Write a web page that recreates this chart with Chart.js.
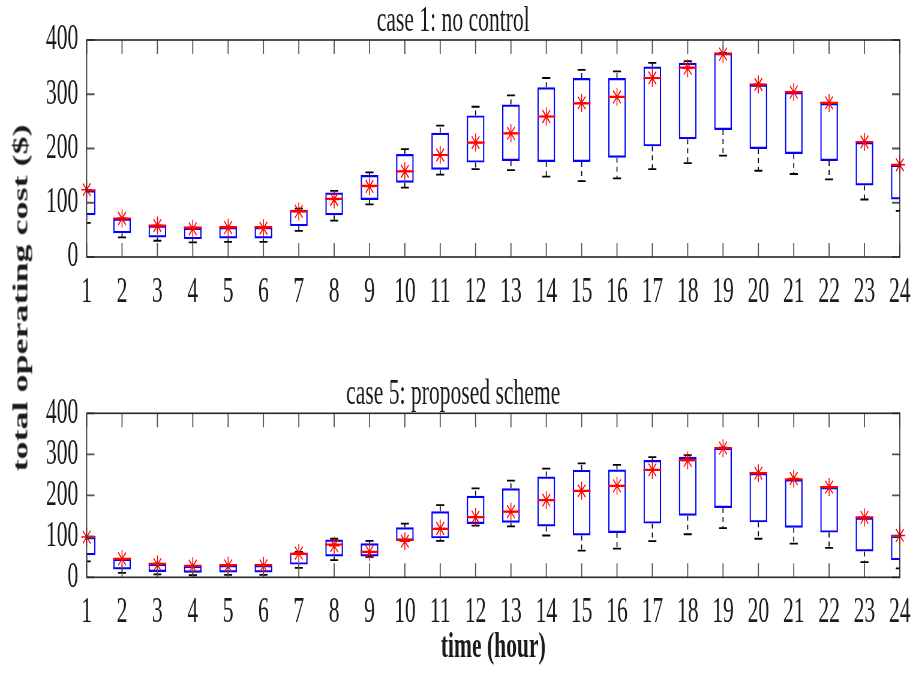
<!DOCTYPE html>
<html>
<head>
<meta charset="utf-8">
<script src="https://cdn.jsdelivr.net/npm/chart.js@4.4.0/dist/chart.umd.min.js"></script>
<style>
  html, body { margin: 0; padding: 0; background: #fff; }
  #wrap { position: relative; width: 919px; height: 678px; background: #fff; overflow: hidden; }
  canvas { position: absolute; left: 0; }
  #ylab {
    position: absolute; left: 20px; top: 298px;
    transform: translate(-50%, -50%) scaleX(0.6) rotate(-90deg);
    font: bold 36px 'Liberation Serif', 'Times New Roman', serif;
    color: #1a1a1a; white-space: nowrap;
  }
</style>
</head>
<body>
<div id="wrap">
  <canvas id="c1" width="1532" height="340" style="top:0;width:919px;height:340px"></canvas>
  <canvas id="c2" width="1532" height="338" style="top:340px;width:919px;height:338px"></canvas>
  <div id="ylab">total operating cost ($)</div>
</div>
<script>
// hours on the x axis
const hours = ['1','2','3','4','5','6','7','8','9','10','11','12','13','14','15','16','17','18','19','20','21','22','23','24'];
const yTicks = [0, 100, 200, 300, 400];

// case 1: no control
const c1Q1     = [77,44,36,33,34,34,57,77,105,137,161,174,177,175,175,183,204,217,234,199,190,177,132,106];
const c1Q3     = [123,71,58,54,55,55,87,119,151,190,229,261,281,313,330,330,351,358,376,318,304,284,212,170];
const c1Median = [123,71,58,54,55,55,84,107,131,158,188,211,228,259,283,295,330,349,375,318,304,284,212,170];
const c1Mean   = [124,71,58,52,54,53,84,106,130,158,188,211,228,259,284,295,330,348,374,318,304,284,212,170];
const c1Hi     = [123,71,58,54,55,55,89,122,156,199,242,277,298,330,345,342,358,361,376,318,304,284,212,170];
const c1Lo     = [63,36,30,27,28,28,48,67,97,128,152,162,160,148,140,145,162,173,187,159,153,143,106,85];

// case 5: proposed scheme
const c5Q1     = [54,19,13,11,12,12,31,51,51,89,95,130,133,124,102,108,131,150,169,134,121,109,63,42];
const c5Q3     = [98,45,33,28,30,30,60,92,83,122,161,199,217,246,262,263,286,294,316,254,239,220,146,101];
const c5Median = [98,45,33,28,30,30,57,80,62,91,118,147,160,188,211,223,262,286,315,254,239,220,146,101];
const c5Mean   = [98,45,31,27,28,28,59,77,62,88,119,147,160,188,211,223,262,285,315,254,241,220,146,102];
const c5Hi     = [98,45,33,28,30,30,62,94,89,131,176,217,236,265,278,274,293,298,316,254,239,220,146,101];
const c5Lo     = [39,11,7,5,6,6,23,42,50,89,89,126,124,102,65,70,88,105,120,94,82,72,37,22];

const FONT = "'Liberation Serif', 'Times New Roman', serif";
const INK = '#1a1a1a';

// dashed whisker stems between box and caps
const stems = {
  id: 'stems',
  beforeDatasetsDraw(chart, args, opts) {
    const { ctx, chartArea: a, scales: { x, y } } = chart;
    ctx.save();
    ctx.beginPath();
    ctx.rect(a.left, a.top, a.right - a.left, a.bottom - a.top);
    ctx.clip();
    ctx.strokeStyle = '#000';
    ctx.lineWidth = 1.7;
    ctx.setLineDash([5, 4]);
    opts.q1.forEach((v, i) => {
      const px = x.getPixelForValue(i);
      ctx.beginPath();
      ctx.moveTo(px, y.getPixelForValue(v));
      ctx.lineTo(px, y.getPixelForValue(opts.lo[i]));
      ctx.moveTo(px, y.getPixelForValue(opts.q3[i]));
      ctx.lineTo(px, y.getPixelForValue(opts.hi[i]));
      ctx.stroke();
    });
    ctx.restore();
  }
};

// box frame with inward ticks on all four sides
const frame = {
  id: 'frame',
  afterDatasetsDraw(chart) {
    const { ctx, chartArea: a, scales: { x, y } } = chart;
    ctx.save();
    ctx.strokeStyle = '#555';
    ctx.lineWidth = 1.8;
    ctx.beginPath();
    x.ticks.forEach((t, i) => {
      const px = x.getPixelForTick(i);
      ctx.moveTo(px, a.bottom); ctx.lineTo(px, a.bottom - 14);
      ctx.moveTo(px, a.top); ctx.lineTo(px, a.top + 14);
    });
    y.ticks.forEach((t, i) => {
      const py = y.getPixelForTick(i);
      ctx.moveTo(a.left, py); ctx.lineTo(a.left + 13, py);
      ctx.moveTo(a.right, py); ctx.lineTo(a.right - 13, py);
    });
    ctx.stroke();
    ctx.strokeStyle = '#262626';
    ctx.lineWidth = 1.6;
    ctx.strokeRect(a.left, a.top, a.right - a.left, a.bottom - a.top);
    ctx.restore();
  }
};

function makeChart(id, title, q1, q3, med, mean, hi, lo, cfg) {
  return new Chart(document.getElementById(id), {
    type: 'bar',
    data: {
      labels: hours,
      datasets: [
        { type: 'line', data: mean, showLine: false, pointStyle: 'star', pointRadius: 9,
          pointBorderColor: '#ff0000', pointBorderWidth: 1.5, clip: false, order: 1 },
        { type: 'line', data: med, showLine: false, pointStyle: 'line', pointRadius: 14.8,
          pointBorderColor: '#ff0000', pointBorderWidth: 2.2, clip: 0, order: 2 },
        { data: q1.map((v, i) => [v, q3[i]]), backgroundColor: 'rgba(0,0,0,0)',
          borderColor: '#0000ff', borderWidth: 2.2, borderSkipped: false,
          barPercentage: 0.5, categoryPercentage: 1.0, clip: 0, order: 3 },
        { type: 'line', data: hi, showLine: false, pointStyle: 'line', pointRadius: 6.7,
          pointBorderColor: '#000', pointBorderWidth: 1.8, clip: 0, order: 4 },
        { type: 'line', data: lo, showLine: false, pointStyle: 'line', pointRadius: 6.7,
          pointBorderColor: '#000', pointBorderWidth: 1.8, clip: 0, order: 4 }
      ]
    },
    options: {
      responsive: false,
      devicePixelRatio: 1,
      animation: false,
      events: [],
      layout: { padding: { left: 0, right: 21, top: 0, bottom: 0 } },
      plugins: {
        legend: { display: false },
        tooltip: { enabled: false },
        title: { display: true, text: title, color: INK,
                 font: { family: FONT, size: 36, weight: 'normal', lineHeight: 1 },
                 padding: cfg.titlePad },
        stems: { q1, q3, hi, lo }
      },
      scales: {
        x: {
          offset: false,
          grid: { display: false, drawTicks: false },
          border: { display: false },
          ticks: { color: INK, font: { family: FONT, size: 36 }, padding: 14,
                   autoSkip: false, maxRotation: 0 },
          title: cfg.xTitle,
          afterFit: s => { s.height = cfg.xHeight; }
        },
        y: {
          min: yTicks[0], max: yTicks[yTicks.length - 1],
          grid: { display: false, drawTicks: false },
          border: { display: false },
          afterBuildTicks: s => { s.ticks = yTicks.map(v => ({ value: v })); },
          ticks: { color: INK, font: { family: FONT, size: 36 }, padding: 14, autoSkip: false },
          afterFit: s => { s.width = 144.5; }
        }
      }
    },
    plugins: [stems, frame]
  });
}

makeChart('c1', 'case 1: no control', c1Q1, c1Q3, c1Median, c1Mean, c1Hi, c1Lo, {
  titlePad: { top: 4, bottom: 0 },
  xTitle: { display: false },
  xHeight: 83
});

makeChart('c2', 'case 5: proposed scheme', c5Q1, c5Q3, c5Median, c5Mean, c5Hi, c5Lo, {
  titlePad: { top: 37, bottom: 0.3 },
  xTitle: { display: true, text: 'time (hour)', color: INK,
            font: { family: FONT, size: 36, weight: 'bold', lineHeight: 1.2 },
            padding: { top: 0, bottom: 9 } },
  xHeight: 100.7
});
</script>
</body>
</html>
